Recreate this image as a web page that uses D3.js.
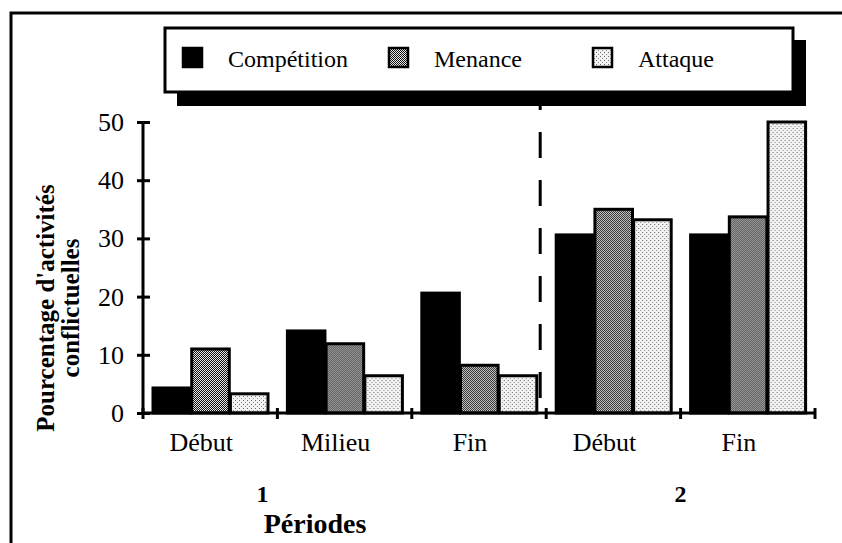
<!DOCTYPE html>
<html>
<head>
<meta charset="utf-8">
<script src="https://cdn.jsdelivr.net/npm/d3@7/dist/d3.min.js"></script>
<style>
  html, body { margin: 0; padding: 0; background: #fff; }
  svg { display: block; }
  text { font-family: "Liberation Serif", "Times New Roman", serif; fill: #000; }
</style>
</head>
<body>
<svg id="chart" width="842" height="543"></svg>
<script>
// ---- data ----
const categoryIds = ["1-Début", "1-Milieu", "1-Fin", "2-Début", "2-Fin"];
const tickLabels = ["Début", "Milieu", "Fin", "Début", "Fin"];
const seriesNames = ["Compétition", "Menance", "Attaque"];
const competition = [4.3, 14.1, 20.6, 30.6, 30.6];
const menance = [11.0, 11.9, 8.2, 35.0, 33.7];
const attaque = [3.3, 6.4, 6.4, 33.2, 50.0];
const yTicks = [0, 10, 20, 30, 40, 50];
const periodLabels = ["1", "2"];
const yTitleLines = ["Pourcentage d'activités", "conflictuelles"];
const xTitle = "Périodes";

const seriesValues = [competition, menance, attaque];

const svg = d3.select("#chart");

// patterns
const defs = svg.append("defs");
const pm = defs.append("pattern").attr("id", "pat-menance").attr("patternUnits", "userSpaceOnUse")
  .attr("width", 2).attr("height", 2);
pm.append("rect").attr("width", 2).attr("height", 2).attr("fill", "#e8e8e8");
pm.append("rect").attr("x", 0).attr("y", 0).attr("width", 1).attr("height", 1).attr("fill", "#111");
pm.append("rect").attr("x", 1).attr("y", 1).attr("width", 1).attr("height", 1).attr("fill", "#111");
const pa = defs.append("pattern").attr("id", "pat-attaque").attr("patternUnits", "userSpaceOnUse")
  .attr("width", 4).attr("height", 4);
pa.append("rect").attr("width", 4).attr("height", 4).attr("fill", "#f2f2f2");
pa.append("rect").attr("x", 0).attr("y", 0).attr("width", 1).attr("height", 1).attr("fill", "#666");
pa.append("rect").attr("x", 2).attr("y", 2).attr("width", 1).attr("height", 1).attr("fill", "#888");

const fills = ["#000", "url(#pat-menance)", "url(#pat-attaque)"];

// outer frame
svg.append("rect").attr("x", 11).attr("y", 13).attr("width", 900).attr("height", 600)
  .attr("fill", "none").attr("stroke", "#000").attr("stroke-width", 3);

// scales
const x = d3.scaleBand().domain(categoryIds).range([143, 815]).padding(0);
const xs = d3.scaleBand().domain(seriesNames).range([10, 125]).paddingInner(0.03);
const y = d3.scaleLinear().domain([0, 50]).range([413, 122]);

// dashed separator between the two periods
const sepX = x(categoryIds[3]) - 6;
svg.append("line").attr("x1", sepX).attr("x2", sepX).attr("y1", 84).attr("y2", 398)
  .attr("stroke", "#000").attr("stroke-width", 3).attr("stroke-dasharray", "26,22");

// legend (with shadow)
const lg = svg.append("g");
lg.append("rect").attr("x", 177).attr("y", 40).attr("width", 629).attr("height", 66).attr("fill", "#000");
lg.append("rect").attr("x", 165).attr("y", 28).attr("width", 628).attr("height", 64)
  .attr("fill", "#fff").attr("stroke", "#000").attr("stroke-width", 3);
const legendX = [183, 389, 593];
seriesNames.forEach((name, i) => {
  lg.append("rect").attr("x", legendX[i]).attr("y", 48).attr("width", 19).attr("height", 19)
    .attr("fill", fills[i]).attr("stroke", "#000").attr("stroke-width", 2.5);
  lg.append("text").attr("x", legendX[i] + 45).attr("y", 67).attr("font-size", 24).text(name);
});

// bars
const groups = svg.append("g").selectAll("g").data(categoryIds).join("g")
  .attr("transform", d => `translate(${x(d)},0)`);
groups.each(function(cat, ci) {
  const g = d3.select(this);
  seriesNames.forEach((s, si) => {
    const v = seriesValues[si][ci];
    g.append("rect").attr("x", xs(s)).attr("width", xs.bandwidth())
      .attr("y", y(v)).attr("height", y(0) - y(v))
      .attr("fill", fills[si]).attr("stroke", "#000").attr("stroke-width", 3);
  });
});

// y axis
const yAxis = svg.append("g").attr("transform", "translate(143,0)")
  .call(d3.axisLeft(y).tickValues(yTicks).tickSize(6).tickPadding(13));
yAxis.select(".domain").attr("stroke-width", 3).attr("d", `M0,${y(50)}V${y(0)}`);
yAxis.selectAll(".tick line").attr("x1", -6).attr("x2", 7).attr("stroke-width", 3);
yAxis.selectAll(".tick text").attr("font-family", "Liberation Serif").attr("font-size", 26).attr("dy", "0.33em");

// x axis
const xAxis = svg.append("g").attr("transform", `translate(0,${y(0)})`)
  .call(d3.axisBottom(x).tickSize(0).tickPadding(20).tickFormat((d, i) => tickLabels[i]));
xAxis.select(".domain").attr("stroke-width", 3).attr("d", `M143,0H815`);
xAxis.selectAll(".tick text").attr("font-family", "Liberation Serif").attr("font-size", 26).attr("dx", -9);
const bounds = categoryIds.map(d => x(d)).concat([x.range()[1]]);
xAxis.selectAll(".bound").data(bounds).join("line").attr("class", "bound")
  .attr("x1", d => d).attr("x2", d => d).attr("y1", -5).attr("y2", 6)
  .attr("stroke", "#000").attr("stroke-width", 3);

// period labels
const periodX = [x(categoryIds[1]) - 15, x(categoryIds[4])];
periodLabels.forEach((p, i) => {
  svg.append("text").attr("x", periodX[i]).attr("y", 502).attr("text-anchor", "middle")
    .attr("font-size", 24).attr("font-weight", "bold").text(p);
});

// x title
svg.append("text").attr("x", 315).attr("y", 533).attr("text-anchor", "middle")
  .attr("font-size", 28).attr("font-weight", "bold").text(xTitle);

// y title
const yt = svg.append("text").attr("transform", "translate(46,308) rotate(-90)")
  .attr("text-anchor", "middle").attr("font-size", 25).attr("font-weight", "bold");
yTitleLines.forEach((t, i) => {
  yt.append("tspan").attr("x", 0).attr("dy", i === 0 ? "0.3em" : "1.02em").text(t);
});
</script>
</body>
</html>
